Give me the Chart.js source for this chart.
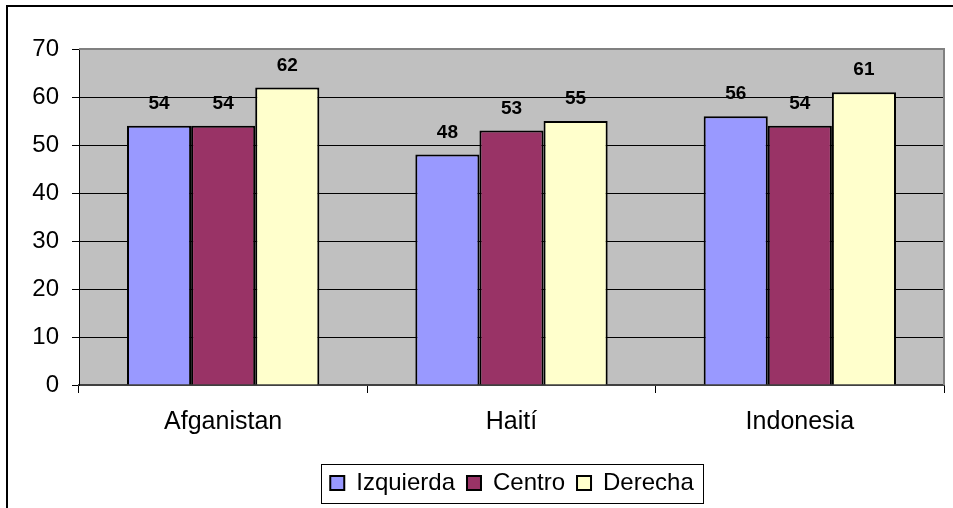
<!DOCTYPE html>
<html>
<head>
<meta charset="utf-8">
<script src="https://cdn.jsdelivr.net/npm/chart.js@4/dist/chart.umd.min.js"></script>
<style>
  body { margin: 0; background: #fff; }
  #wrap { width: 953px; height: 508px; position: relative; }
</style>
</head>
<body>
<div id="wrap"><canvas id="myChart"></canvas></div>
<script>
const categories = ['Afganistan', 'Haití', 'Indonesia']
const seriesNames = ['Izquierda', 'Centro', 'Derecha']
const izquierda = [54, 48, 56]
const centro = [54, 53, 54]
const derecha = [62, 55, 61]
const yTicks = [0, 10, 20, 30, 40, 50, 60, 70]
const seriesColors = ['#9999FF', '#993366', '#FFFFCC']

const font = 'Arial, "Liberation Sans", sans-serif'

// plot background, outer frame and top/right plot border
const framePlugin = {
  id: 'frame',
  afterLayout(chart) {
    // legend sits centred under the plot area, not the whole canvas
    chart.legend.left += 40
    chart.legend.right += 40
  },
  beforeDraw(chart) {
    const ctx = chart.ctx
    const a = chart.chartArea
    ctx.save()
    ctx.fillStyle = '#fff'
    ctx.fillRect(0, 0, chart.width, chart.height)
    ctx.fillStyle = '#C0C0C0'
    ctx.fillRect(a.left, a.top, a.right - a.left, a.bottom - a.top)
    ctx.strokeStyle = '#000'
    ctx.lineWidth = 2
    ctx.beginPath()
    ctx.moveTo(7, chart.height)
    ctx.lineTo(7, 6)
    ctx.lineTo(chart.width, 6)
    ctx.stroke()
    ctx.restore()
  },
  afterDraw(chart) {
    const ctx = chart.ctx
    const a = chart.chartArea
    ctx.save()
    ctx.strokeStyle = '#808080'
    ctx.lineWidth = 2
    ctx.beginPath()
    ctx.moveTo(a.left, a.top)
    ctx.lineTo(a.right, a.top)
    ctx.lineTo(a.right, a.bottom)
    ctx.stroke()
    // legend box
    const boxes = chart.legend.legendHitBoxes
    if (boxes && boxes.length) {
      const first = boxes[0]
      const last = boxes[boxes.length - 1]
      ctx.strokeStyle = '#000'
      ctx.lineWidth = 1
      const l = Math.round(first.left - 9) + 0.5
      const r = Math.round(last.left + last.width + 9) + 0.5
      const t = Math.round(first.top + first.height / 2 - 19) + 0.5
      ctx.strokeRect(l, t, r - l, 39)
    }
    ctx.restore()
  }
}

// value labels above bars
const labelPlugin = {
  id: 'valueLabels',
  afterDatasetsDraw(chart) {
    const ctx = chart.ctx
    ctx.save()
    ctx.font = 'bold 19px ' + font
    ctx.fillStyle = '#000'
    ctx.textAlign = 'center'
    ctx.textBaseline = 'middle'
    chart.data.datasets.forEach((ds, i) => {
      chart.getDatasetMeta(i).data.forEach((bar, j) => {
        ctx.fillText(ds.data[j], bar.x, bar.y - 22)
      })
    })
    ctx.restore()
  }
}

const seriesData = [izquierda, centro, derecha]
const datasets = seriesNames.map((name, i) => ({
  label: name,
  data: seriesData[i],
  backgroundColor: seriesColors[i],
  borderColor: '#000',
  borderWidth: 2,
  borderSkipped: 'bottom',
  categoryPercentage: 0.667,
  barPercentage: 1
}))

const ctx = document.getElementById('myChart').getContext('2d')
const myChart = new Chart(ctx, {
  type: 'bar',
  data: { labels: categories, datasets },
  options: {
    responsive: true,
    maintainAspectRatio: false,
    animation: false,
    layout: { padding: { left: 0, top: 49, right: 9, bottom: 3 } },
    scales: {
      x: {
        offset: true,
        grid: {
          offset: true,
          drawOnChartArea: false,
          drawTicks: true,
          tickLength: 8,
          color: '#000'
        },
        border: { display: true, color: '#404040', width: 2 },
        ticks: {
          color: '#000',
          padding: 14,
          font: { family: font, size: 25 }
        },
        afterFit(scale) {
          scale.height = 74
        }
      },
      y: {
        min: 0,
        max: 70,
        afterBuildTicks(scale) {
          scale.ticks = yTicks.map(v => ({ value: v }))
        },
        grid: {
          color: '#000',
          lineWidth: 1,
          tickLength: 7,
          drawTicks: true
        },
        border: { display: true, color: '#000', width: 1 },
        ticks: {
          color: '#000',
          padding: 13,
          font: { family: font, size: 24 }
        },
        afterFit(scale) {
          scale.width = 79
        }
      }
    },
    plugins: {
      legend: {
        position: 'bottom',
        labels: {
          color: '#000',
          boxWidth: 14,
          boxHeight: 14,
          padding: 12,
          font: { family: font, size: 24 },
          generateLabels(chart) {
            return chart.data.datasets.map((ds, i) => ({
              text: ds.label,
              fillStyle: ds.backgroundColor,
              strokeStyle: '#000',
              lineWidth: 2,
              datasetIndex: i,
              fontColor: '#000'
            }))
          }
        }
      },
      tooltip: { enabled: false }
    }
  },
  plugins: [framePlugin, labelPlugin]
})
</script>
</body>
</html>
